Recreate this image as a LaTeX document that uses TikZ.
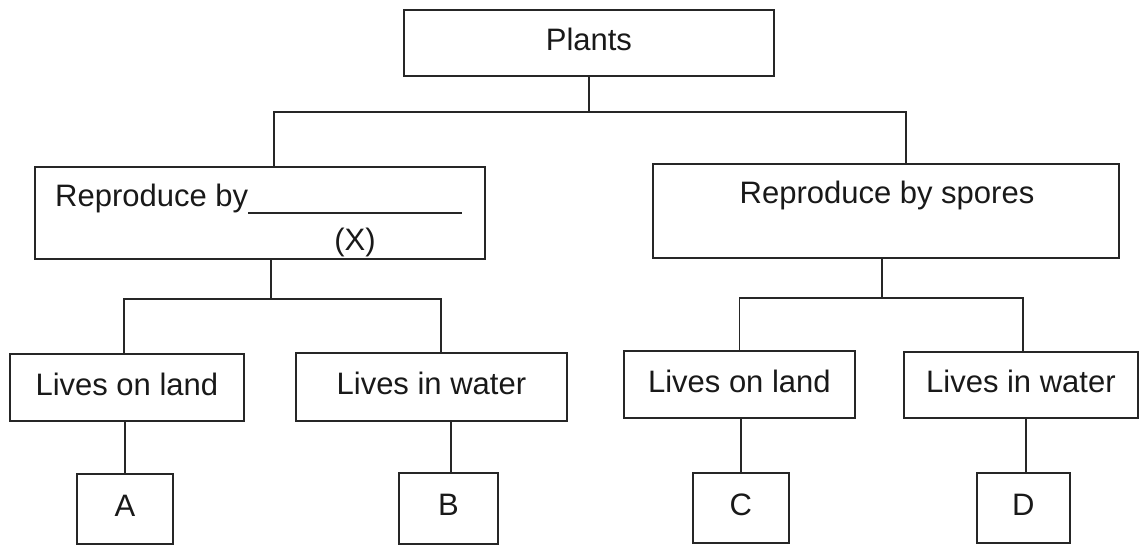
\documentclass[tikz,border=0pt]{standalone}
\usepackage{fontspec}
\setmainfont{Liberation Sans}
\usetikzlibrary{calc}
\begin{document}
\begin{tikzpicture}[x=1pt,y=-1pt,
  box/.style={draw=black!85, line width=1.8pt, inner sep=0pt, anchor=north west,
    text depth=7pt, text=black!90, font=\fontsize{31}{37}\selectfont},
  link/.style={draw=black!85, line width=1.8pt},
  txt/.style={font=\fontsize{31}{37}\selectfont, inner sep=0pt, text=black!90}]
\useasboundingbox (0,0) rectangle (1139,545);

% boxes
\node[box, minimum width=370pt, minimum height=66pt] (plants) at (403,9) {Plants};

\node[box, minimum width=450pt, minimum height=92pt] (repx) at (34,166) {};
\node[txt, anchor=base west] (repxt) at (55,207) {Reproduce by};
\draw[draw=black!85, line width=1.5pt] ($(repxt.base east)+(0,6)$) -- ++(214,0);
\node[txt] (xlab) at (355,242) {(X)};

\node[box, minimum width=466pt, minimum height=94pt] (spores) at (652,163) {};
\node[txt] (sporest) at (887,195) {Reproduce by spores};

\node[box, minimum width=234pt, minimum height=67pt] (land1) at (9,353) {Lives on land};
\node[box, minimum width=271pt, minimum height=68pt] (water1) at (295,352) {Lives in water};
\node[box, minimum width=231pt, minimum height=67pt] (land2) at (623,350) {Lives on land};
\node[box, minimum width=234pt, minimum height=66pt] (water2) at (903,351) {Lives in water};

\node[box, minimum width=96pt, minimum height=70pt] (A) at (76,473) {A};
\node[box, minimum width=99pt, minimum height=71pt] (B) at (398,472) {B};
\node[box, minimum width=96pt, minimum height=70pt] (C) at (692,472) {C};
\node[box, minimum width=93pt, minimum height=70pt] (D) at (976,472) {D};

% connectors: level 1
\coordinate (j1) at (589,112);
\draw[link] (plants.south) -- (j1);
\draw[link] ($(repx.north)+(14,0)$) |- (j1) -| ($(spores.north)+(20,0)$);

% level 2 left
\draw[link] ($(repx.south)+(11,0)$) -- ++(0,39) coordinate (j2);
\draw[link] ($(land1.north)+(-3,0)$) |- (j2) -| ($(water1.north)+(9.5,0)$);

% level 2 right
\draw[link] ($(spores.south)+(-4,0)$) -- ++(0,39) coordinate (j3);
\draw[link] (land2.north) |- (j3) -| ($(water2.north)+(2,0)$);

% leaves
\coordinate (bt) at ($(B.north)+(2.5,0)$);
\coordinate (dt) at ($(D.north)+(2.5,0)$);
\draw[link] (A.north) -- (A.north |- land1.south);
\draw[link] (bt) -- (bt |- water1.south);
\draw[link] (C.north) -- (C.north |- land2.south);
\draw[link] (dt) -- (dt |- water2.south);
\end{tikzpicture}
\end{document}
